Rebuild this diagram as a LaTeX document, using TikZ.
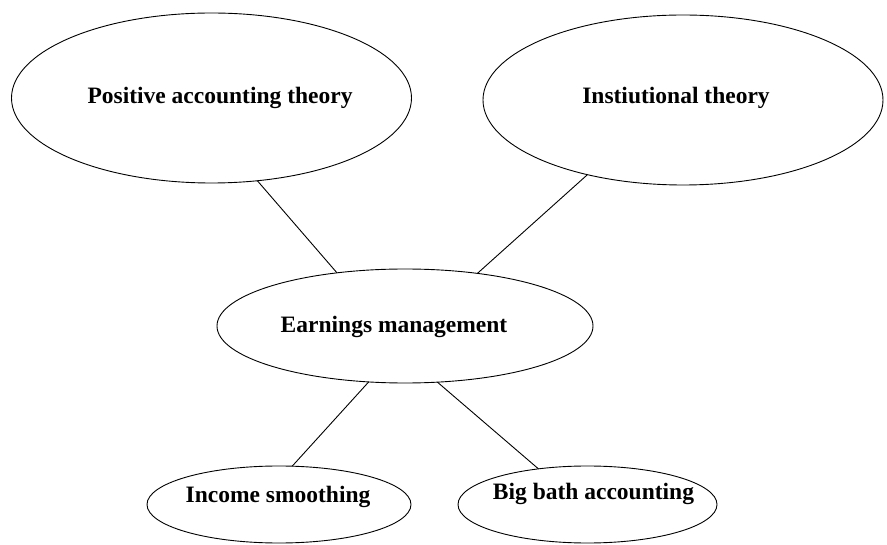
\documentclass[tikz,border=0pt]{standalone}
\usepackage{fontspec}
\setmainfont{Liberation Serif}
\usetikzlibrary{shapes.geometric}
\begin{document}
\begin{tikzpicture}[x=1pt,y=-1pt,
  bubble/.style={draw, ellipse, inner sep=0pt, outer sep=0pt, line width=0.9pt},
  tag/.style={font=\bfseries\fontsize{23.5}{27}\selectfont, inner sep=0pt},
  link/.style={line width=0.9pt}]
\useasboundingbox (0,0) rectangle (887,545);
% theories
\node[bubble, minimum width=400pt, minimum height=170pt,
      label={[tag, xshift=8.5pt]center:Positive accounting theory}] (pat) at (211.5,98) {};
\node[bubble, minimum width=400pt, minimum height=170pt,
      label={[tag, xshift=-7pt, yshift=2pt]center:Instiutional theory}] (inst) at (683,100) {};
% central concept
\node[bubble, minimum width=376pt, minimum height=114pt,
      label={[tag, xshift=-11pt, yshift=-1pt]center:Earnings management}] (em) at (405,326) {};
% practices
\node[bubble, minimum width=264pt, minimum height=77pt,
      label={[tag, xshift=-1pt, yshift=7.5pt]center:Income smoothing}] (inc) at (279,504.5) {};
\node[bubble, minimum width=259pt, minimum height=77pt,
      label={[tag, xshift=6pt, yshift=10.5pt]center:Big bath accounting}] (bb) at (587.5,504.5) {};
% connectors
\draw[link] (pat.-61) -- (em.142);
\draw[link] (inst.-142) -- (em.36);
\draw[link] (em.-123) -- (inc.71);
\draw[link] (em.-60) -- (bb.144);
\end{tikzpicture}
\end{document}
